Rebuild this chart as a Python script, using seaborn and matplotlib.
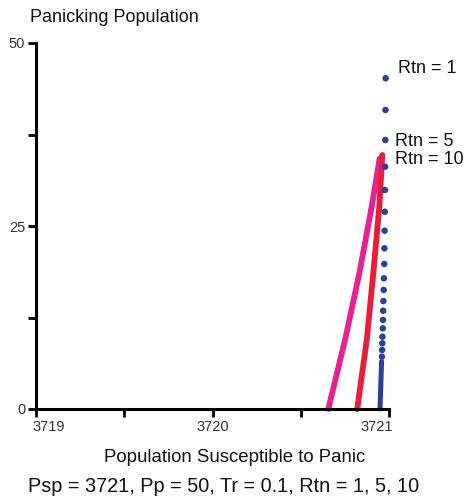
import matplotlib
matplotlib.use("Agg")
import matplotlib.pyplot as plt
import matplotlib.transforms as mtransforms
import seaborn as sns
import pandas as pd
from matplotlib.ticker import MultipleLocator

# ---- data ----
rtn1_x = [3720.981, 3720.980, 3720.979, 3720.978, 3720.977, 3720.976, 3720.975,
          3720.974, 3720.973, 3720.971, 3720.970, 3720.968, 3720.967, 3720.966,
          3720.965, 3720.963, 3720.962, 3720.961, 3720.960]
rtn1_y = [45.18, 40.85, 36.75, 33.10, 29.92, 26.95, 24.36, 21.95, 19.81, 17.86,
          16.26, 14.75, 13.43, 12.16, 11.02, 9.88, 8.98, 8.06, 7.15]
rtn1_tail_x = [3720.958, 3720.949]
rtn1_tail_y = [6.5, 0.0]

rtn5_x = [3720.820, 3720.874, 3720.911, 3720.945, 3720.962]
rtn5_y = [0.0, 9.43, 18.54, 27.64, 34.7]

rtn10_x = [3720.656, 3720.751, 3720.832, 3720.902, 3720.947]
rtn10_y = [0.0, 9.43, 18.54, 27.64, 34.2]

x_ticks = [3719, 3720, 3721]
y_ticks = [0, 25, 50]

series_labels = ["Rtn = 1", "Rtn = 5", "Rtn = 10"]
label_x = [3721.051, 3721.034, 3721.034]
label_y = [46.45, 36.6, 34.15]

blue = "#2e3f97"
red = "#e61e3a"
pink = "#e62191"

sns.set_style("ticks")
plt.rcParams["font.family"] = ["Liberation Sans", "DejaVu Sans"]

fig = plt.figure(figsize=(4.66, 5.01), dpi=100)
ax = fig.add_axes([36 / 466, 1 - 409 / 501, (389 - 36) / 466, (409 - 43) / 501])

df10 = pd.DataFrame({"x": rtn10_x, "y": rtn10_y})
df5 = pd.DataFrame({"x": rtn5_x, "y": rtn5_y})
dft = pd.DataFrame({"x": rtn1_tail_x, "y": rtn1_tail_y})
df1 = pd.DataFrame({"x": rtn1_x, "y": rtn1_y})

sns.lineplot(data=df10, x="x", y="y", ax=ax, color=pink, linewidth=4.2,
             sort=False, solid_capstyle="round", solid_joinstyle="round",
             clip_on=False)
sns.lineplot(data=df5, x="x", y="y", ax=ax, color=red, linewidth=4.2,
             sort=False, solid_capstyle="round", solid_joinstyle="round",
             clip_on=False)
sns.lineplot(data=dft, x="x", y="y", ax=ax, color=blue, linewidth=3.6,
             sort=False, solid_capstyle="round", clip_on=False)
sns.scatterplot(data=df1, x="x", y="y", ax=ax, color=blue, s=22,
                edgecolor="none", clip_on=False, zorder=3)

ax.set_xlim(3719, 3721)
ax.set_ylim(0, 50)
ax.set_xticks(x_ticks)
ax.set_xticklabels([str(t) for t in x_ticks])
ax.set_yticks(y_ticks)
ax.set_yticklabels([str(t) for t in y_ticks])
ax.xaxis.set_minor_locator(MultipleLocator(0.5))
ax.yaxis.set_minor_locator(MultipleLocator(12.5))
ax.tick_params(which="both", direction="out", length=5.8, width=2.0,
               color="black", labelsize=10.5, labelcolor="#333333", pad=2)
ax.set_xlabel("")
ax.set_ylabel("")
for side in ["top", "right"]:
    ax.spines[side].set_visible(False)
for side in ["left", "bottom"]:
    ax.spines[side].set_linewidth(2.2)
    ax.spines[side].set_color("black")

# keep the end tick labels inside the axis span, as in the reference
xlabels = ax.get_xticklabels()
xlabels[0].set_horizontalalignment("left")
xlabels[0].set_transform(xlabels[0].get_transform() +
                         mtransforms.ScaledTranslation(-4 / 100, 0, fig.dpi_scale_trans))
xlabels[-1].set_horizontalalignment("right")
xlabels[-1].set_transform(xlabels[-1].get_transform() +
                          mtransforms.ScaledTranslation(4 / 100, 0, fig.dpi_scale_trans))

for lab, lx, ly in zip(series_labels, label_x, label_y):
    ax.text(lx, ly, lab, fontsize=13, color="#111111", va="center",
            ha="left", clip_on=False)

fig.text(30 / 466, 1 - 18 / 501, "Panicking Population", fontsize=13,
         color="#111111", va="center", ha="left")
fig.text(235 / 466, 1 - 457 / 501, "Population Susceptible to Panic",
         fontsize=13.4, color="#111111", va="center", ha="center")
fig.text(224 / 466, 1 - 487 / 501, "Psp = 3721, Pp = 50, Tr = 0.1, Rtn = 1, 5, 10",
         fontsize=14.3, color="#111111", va="center", ha="center")

fig.savefig("out.png", dpi=100, facecolor="white")
